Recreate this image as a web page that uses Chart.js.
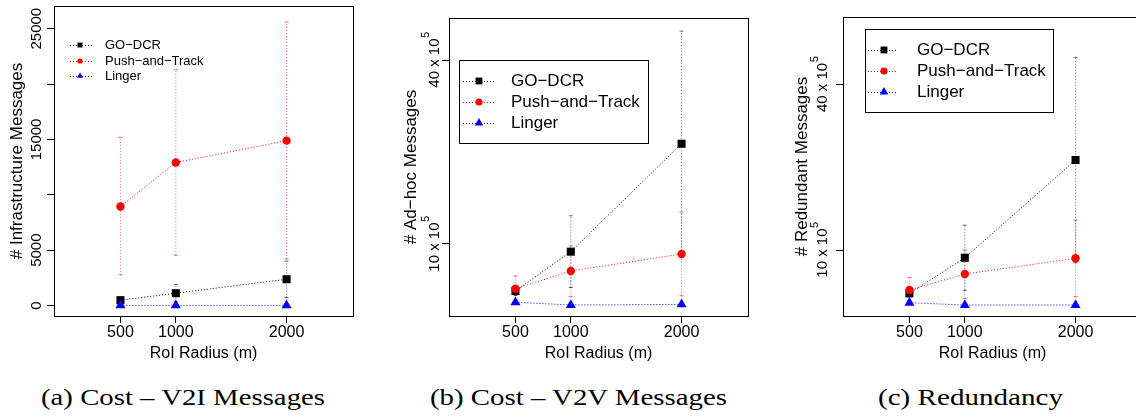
<!DOCTYPE html>
<html>
<head>
  <meta charset="utf-8">
  <title>RoI radius: cost and redundancy</title>
  <style>
    body {
      margin: 0;
      width: 1136px;
      height: 418px;
      overflow: hidden;
      position: relative;
      background: #fff;
    }
    canvas {
      position: absolute;
      top: 0;
    }
    .caption {
      position: absolute;
      top: 385px;
      font-family: "Liberation Serif", "Times New Roman", serif;
      font-size: 23px;
      line-height: 26px;
      white-space: nowrap;
      color: #000;
      transform-origin: 0 0;
    }
  </style>
</head>
<body>
  <canvas id="v2i" width="380" height="370" style="left:0"></canvas>
  <canvas id="v2v" width="380" height="370" style="left:380px"></canvas>
  <canvas id="redundancy" width="400" height="370" style="left:760px"></canvas>

  <div class="caption" data-center="183" data-width="284">(a) Cost – V2I Messages</div>
  <div class="caption" data-center="578" data-width="297">(b) Cost – V2V Messages</div>
  <div class="caption" data-center="970" data-width="185">(c) Redundancy</div>

  <script src="https://cdn.jsdelivr.net/npm/chart.js"></script>
  <script>
    const radii = [500, 1000, 2000];
    const xTicks = [500, 1000, 2000];
    const seriesNames = ['GO−DCR', 'Push−and−Track', 'Linger'];

    // (a) infrastructure messages, mean and +/- sd ends
    const v2iGoMean = [480, 1110, 2370];
    const v2iGoLow = [300, 330, 720];
    const v2iGoHigh = [660, 1900, 4000];
    const v2iPushMean = [8940, 12910, 14890];
    const v2iPushLow = [2770, 4540, 4200];
    const v2iPushHigh = [15190, 21300, 25600];
    const v2iLinger = [10, 10, 10];
    const v2iTicks = [0, 5000, 10000, 15000, 20000, 25000];
    const v2iTickLabels = ['0', '5000', '', '15000', '', '25000'];

    // (b) ad-hoc messages, in units of 10^5
    const v2vGoMean = [2.34, 8.75, 26.35];
    const v2vGoLow = [1.6, 2.9, 8.0];
    const v2vGoHigh = [3.1, 14.6, 44.7];
    const v2vPushMean = [2.71, 5.6, 8.37];
    const v2vPushLow = [0.65, 1.45, 1.55];
    const v2vPushHigh = [4.78, 9.67, 15.2];
    const v2vLinger = [0.5, 0.05, 0.16];
    const v2vTicks = [10, 40];
    const v2vTickLabels = ['10 x 10', '40 x 10'];

    // (c) redundant messages, in units of 10^5
    const redGoMean = [2.15, 8.6, 26.3];
    const redGoLow = [1.5, 2.7, 7.7];
    const redGoHigh = [2.8, 14.5, 44.9];
    const redPushMean = [2.75, 5.65, 8.5];
    const redPushLow = [0.5, 1.25, 1.55];
    const redPushHigh = [5.0, 10.0, 15.4];
    const redLinger = [0.45, 0.04, 0.04];
    const redTicks = [10, 40];
    const redTickLabels = ['10 x 10', '40 x 10'];

    const SANS = '"Liberation Sans", Arial, Helvetica, sans-serif';

    const seriesStyles = [
      { color: '#000000', bar: 'rgba(0,0,0,0.6)', pointStyle: 'rect', radius: 5.7 },
      { color: '#ff0000', bar: 'rgba(255,0,0,0.6)', pointStyle: 'circle', radius: 4.2 },
      { color: '#0000ff', bar: 'rgba(0,0,255,0.6)', pointStyle: 'triangle', radius: 5.8 }
    ];

    function buildDatasets(means, lows, highs) {
      const sets = [];
      means.forEach((vals, s) => {
        const st = seriesStyles[s];
        sets.push({
          label: seriesNames[s],
          data: radii.map((x, i) => ({ x: x, y: vals[i] })),
          borderColor: st.color,
          backgroundColor: st.color,
          borderWidth: 1,
          borderDash: [1, 2],
          pointStyle: st.pointStyle,
          pointRadius: st.radius,
          pointBorderWidth: 0,
          pointBackgroundColor: st.color,
          order: 3 - s
        });
        if (!lows[s]) return;
        // dotted error bar with small caps at both ends
        radii.forEach((x, i) => {
          sets.push({
            label: seriesNames[s] + ' sd',
            data: [{ x: x, y: lows[s][i] }, { x: x, y: highs[s][i] }],
            borderColor: st.bar,
            borderWidth: 1,
            borderDash: [1, 2],
            pointStyle: 'line',
            pointRadius: 2,
            pointBorderColor: st.bar,
            pointBorderWidth: 1,
            order: 10
          });
        });
      });
      return sets;
    }

    function drawLegend(ctx, lg) {
      ctx.save();
      if (lg.box) {
        ctx.strokeStyle = '#000';
        ctx.lineWidth = 1;
        ctx.strokeRect(lg.box[0] + 0.5, lg.box[1] + 0.5, lg.box[2] - lg.box[0], lg.box[3] - lg.box[1]);
      }
      ctx.font = lg.fontSize + 'px ' + SANS;
      ctx.textBaseline = 'middle';
      ctx.textAlign = 'left';
      seriesNames.forEach((name, s) => {
        const st = seriesStyles[s];
        const y = lg.rows[s];
        ctx.strokeStyle = st.color;
        ctx.lineWidth = 1;
        ctx.setLineDash([1, 2]);
        ctx.beginPath();
        ctx.moveTo(lg.lineFrom, y + 0.5);
        ctx.lineTo(lg.lineTo, y + 0.5);
        ctx.stroke();
        ctx.setLineDash([]);
        ctx.fillStyle = st.color;
        Chart.helpers.drawPoint(ctx, {
          pointStyle: st.pointStyle,
          radius: st.radius * lg.markerScale,
          rotation: 0,
          borderWidth: 0
        }, lg.markerX, y);
        ctx.fillStyle = '#000';
        ctx.fillText(name, lg.textX, y);
      });
      ctx.restore();
    }

    function panelDecor(p) {
      return {
        id: 'panelDecor',
        afterDraw(chart) {
          const ctx = chart.ctx;
          const a = chart.chartArea;
          const ys = chart.scales.y;
          ctx.save();

          // plot frame
          ctx.strokeStyle = '#000';
          ctx.lineWidth = 1;
          ctx.setLineDash([]);
          ctx.strokeRect(Math.round(a.left) + 0.5, Math.round(a.top) + 0.5,
            Math.round(a.right - a.left), Math.round(a.bottom - a.top));

          // y tick labels, parallel to the axis
          ctx.fillStyle = '#000';
          ctx.textBaseline = 'middle';
          p.yTicks.forEach((v, i) => {
            const text = p.yTickLabels[i];
            if (!text) return;
            const py = ys.getPixelForValue(v);
            ctx.save();
            ctx.translate(p.tickLabelX, py);
            ctx.rotate(-Math.PI / 2);
            ctx.font = '15px ' + SANS;
            const w1 = ctx.measureText(text).width;
            let w2 = 0;
            if (p.exponent) {
              ctx.font = '11px ' + SANS;
              w2 = ctx.measureText(p.exponent).width;
            }
            const start = -(w1 + w2) / 2;
            ctx.textAlign = 'left';
            ctx.font = '15px ' + SANS;
            ctx.fillText(text, start, 0);
            if (p.exponent) {
              ctx.font = '11px ' + SANS;
              ctx.fillText(p.exponent, start + w1 + 0.5, -p.expRaise);
            }
            ctx.restore();
          });

          // y axis title
          ctx.save();
          ctx.translate(p.titleX, (a.top + a.bottom) / 2);
          ctx.rotate(-Math.PI / 2);
          ctx.textAlign = 'center';
          ctx.font = '17px ' + SANS;
          ctx.fillText(p.yTitle, 0, 0);
          ctx.restore();

          drawLegend(ctx, p.legend);
          ctx.restore();
        }
      };
    }

    function makePanel(id, p) {
      return new Chart(document.getElementById(id), {
        type: 'line',
        data: { datasets: buildDatasets(p.means, p.lows, p.highs) },
        options: {
          responsive: false,
          animation: false,
          devicePixelRatio: 1,
          events: [],
          layout: { padding: { top: p.top, right: p.right, left: 0, bottom: 0 } },
          plugins: { legend: { display: false }, tooltip: { enabled: false } },
          scales: {
            x: {
              type: 'linear',
              min: -100,
              max: 2600,
              afterBuildTicks: s => { s.ticks = xTicks.map(v => ({ value: v })); },
              afterFit: s => { s.height = 370 - p.bottom; },
              border: { display: false },
              grid: { drawOnChartArea: false, drawTicks: true, tickLength: 7, color: '#000' },
              ticks: {
                padding: 2,
                color: '#000',
                font: { family: SANS, size: 16, lineHeight: 1 },
                callback: v => String(v)
              },
              title: {
                display: true,
                text: 'RoI Radius (m)',
                color: '#000',
                font: { family: SANS, size: 16 },
                padding: { top: 0, bottom: 7 }
              }
            },
            y: {
              type: 'linear',
              min: p.yMin,
              max: p.yMax,
              afterBuildTicks: s => { s.ticks = p.yTicks.map(v => ({ value: v })); },
              afterFit: s => { s.width = p.left; },
              border: { display: false },
              grid: { drawOnChartArea: false, drawTicks: true, tickLength: 7, color: '#000' },
              ticks: { display: false }
            }
          }
        },
        plugins: [panelDecor(p)]
      });
    }

    makePanel('v2i', {
      means: [v2iGoMean, v2iPushMean, v2iLinger],
      lows: [v2iGoLow, v2iPushLow, null],
      highs: [v2iGoHigh, v2iPushHigh, null],
      yMin: -950, yMax: 27050,
      yTicks: v2iTicks, yTickLabels: v2iTickLabels,
      yTitle: '# Infrastructure Messages',
      left: 54, top: 6, right: 27, bottom: 316,
      tickLabelX: 37, titleX: 17,
      legend: {
        fontSize: 13, rows: [45, 61, 76],
        lineFrom: 70, lineTo: 92, markerX: 80, textX: 105, markerScale: 0.62
      }
    });

    makePanel('v2v', {
      means: [v2vGoMean, v2vPushMean, v2vLinger],
      lows: [v2vGoLow, v2vPushLow, null],
      highs: [v2vGoHigh, v2vPushHigh, null],
      yMin: -1.74, yMax: 46.85,
      yTicks: v2vTicks, yTickLabels: v2vTickLabels,
      exponent: '5', expRaise: 9,
      yTitle: '# Ad−hoc Messages',
      left: 69, top: 18, right: 12, bottom: 316,
      tickLabelX: 55, titleX: 31,
      legend: {
        box: [79, 60, 268, 143],
        fontSize: 17, rows: [81, 102, 123],
        lineFrom: 83, lineTo: 114, markerX: 99, textX: 131, markerScale: 0.85
      }
    });

    makePanel('redundancy', {
      means: [redGoMean, redPushMean, redLinger],
      lows: [redGoLow, redPushLow, null],
      highs: [redGoHigh, redPushHigh, null],
      yMin: -1.95, yMax: 52.2,
      yTicks: redTicks, yTickLabels: redTickLabels,
      exponent: '5', expRaise: 8,
      yTitle: '# Redundant Messages',
      left: 83, top: 17, right: 18, bottom: 316,
      tickLabelX: 63, titleX: 42,
      legend: {
        box: [105, 29, 293, 112],
        fontSize: 17, rows: [50, 71, 92],
        lineFrom: 108, lineTo: 138, markerX: 124, textX: 157, markerScale: 0.85
      }
    });

    // stretch captions to the sub-figure caption width
    document.querySelectorAll('.caption').forEach(el => {
      const w = el.getBoundingClientRect().width;
      const target = +el.dataset.width;
      el.style.left = (+el.dataset.center - target / 2) + 'px';
      el.style.transform = 'scaleX(' + (target / w) + ')';
    });
  </script>
</body>
</html>
